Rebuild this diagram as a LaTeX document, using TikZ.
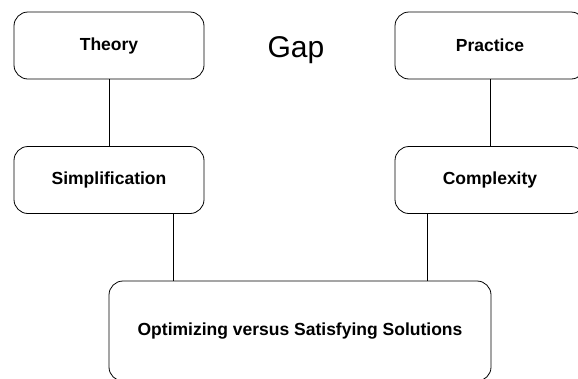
\documentclass[tikz,border=0pt]{standalone}
\usepackage{fontspec}
\setmainfont{Liberation Sans}
\usetikzlibrary{calc}

\tikzset{box/.style={draw=black, thick, rounded corners=14pt, minimum width=190pt, minimum height=67pt, font=\fontsize{17.5}{20}\selectfont\bfseries}}

\begin{document}
\begin{tikzpicture}[x=1pt, y=-1pt, line width=0.8pt]
\useasboundingbox (0,0) rectangle (578,378);
\node[box] (theory) at (109,45.5) {Theory};
\node[box] (practice) at (490,45.5) {Practice};
\node[box] (simp) at (109,180) {Simplification};
\node[box] (cplx) at (490,180) {Complexity};
\node[box, minimum width=382pt, minimum height=100pt] (opt) at (300,331) {Optimizing versus Satisfying Solutions};
\node[font=\fontsize{30}{36}\selectfont] (gap) at (296,50) {Gap};

\draw (theory) -- (simp);
\draw (practice) -- (cplx);
\draw ([xshift=64pt]simp.south) -- ([xshift=64pt]simp.south |- opt.north);
\draw ([xshift=-63pt]cplx.south) -- ([xshift=-63pt]cplx.south |- opt.north);
\end{tikzpicture}
\end{document}
